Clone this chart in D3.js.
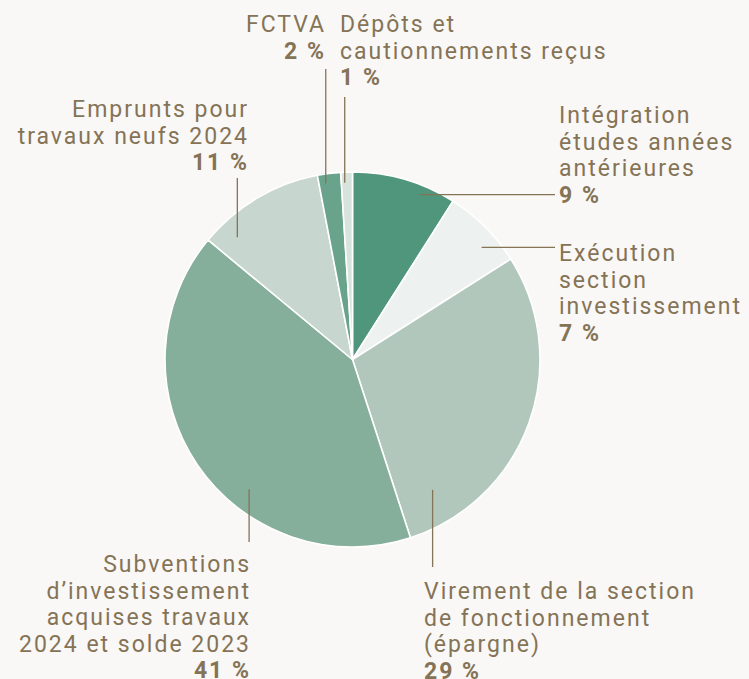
<!DOCTYPE html>
<html>
<head>
<meta charset="utf-8">
<script src="https://cdn.jsdelivr.net/npm/d3@7"></script>
<style>
  html, body { margin: 0; padding: 0; background: #f9f8f6; }
  svg { display: block; }
  .lbl { font-family: Roboto, sans-serif; font-size: 23px; fill: #857356; letter-spacing: 2px; }
  .lbl .pct { font-weight: 700; letter-spacing: 2px; }
</style>
</head>
<body>
<svg id="chart"></svg>
<script>
// Data, clockwise from 12 o'clock
const categories = [
  ["Intégration", "études années", "antérieures"],
  ["Exécution", "section", "investissement"],
  ["Virement de la section", "de fonctionnement", "(épargne)"],
  ["Subventions", "d’investissement", "acquises travaux", "2024 et solde 2023"],
  ["Emprunts pour", "travaux neufs 2024"],
  ["FCTVA"],
  ["Dépôts et", "cautionnements reçus"]
];
const values = [9, 7, 29, 41, 11, 2, 1];
const colors = ["#4f967c", "#edf2f0", "#b2c7bc", "#85ae9b", "#c7d6cf", "#69a38c", "#d8e3de"];

// label layout: t = position across slice, r = anchor radius,
// dir = leader direction, end = leader end, tx/ty = text anchor, align
const labelLayout = [
  {t: 0.685, r: 178, dir: "h", end: 555, tx: 559, ty: 123, align: "start"},
  {t: 0.66,  r: 171, dir: "h", end: 555, tx: 559, ty: 261, align: "start"},
  {t: 0.87,  r: 153, dir: "v", end: 567, tx: 424, ty: 599, align: "start"},
  {t: 0.383, r: 166, dir: "v", end: 542, tx: 251, ty: 572, align: "end"},
  {t: 0.18,  r: 168, dir: "v", end: 178, tx: 249, ty: 117, align: "end"},
  {t: 0.3,   r: 178, dir: "v", end: 69,  tx: 326, ty: 32,  align: "end"},
  {t: 0.3,   r: 177, dir: "v", end: 97,  tx: 340, ty: 32,  align: "start"}
];

const width = 749, height = 679;
const cx = 352.5, cy = 359.5, radius = 187.5;
const lineH = 26.5;

const svg = d3.select("#chart").attr("width", width).attr("height", height);

const pie = d3.pie().sort(null).value(d => d);
const arcs = pie(values);
const arc = d3.arc().innerRadius(0).outerRadius(radius);

const g = svg.append("g").attr("transform", `translate(${cx},${cy})`);

g.selectAll("path.slice")
  .data(arcs)
  .join("path")
  .attr("class", "slice")
  .attr("d", arc)
  .attr("fill", (d, i) => colors[i])
  .attr("stroke", "#ffffff")
  .attr("stroke-width", 1.6)
  .attr("stroke-linejoin", "round");

// leader lines
arcs.forEach((d, i) => {
  const L = labelLayout[i];
  const a = d.startAngle + (d.endAngle - d.startAngle) * L.t;
  const x0 = cx + L.r * Math.sin(a), y0 = cy - L.r * Math.cos(a);
  const x1 = L.dir === "h" ? L.end : x0;
  const y1 = L.dir === "h" ? y0 : L.end;
  svg.append("line")
    .attr("x1", x0).attr("y1", y0).attr("x2", x1).attr("y2", y1)
    .attr("stroke", "#857356").attr("stroke-width", 1.3);
});

// labels (text-anchor end: trailing letter-spacing shifts by 2px, tx compensates)
categories.forEach((lines, i) => {
  const L = labelLayout[i];
  const t = svg.append("text").attr("class", "lbl")
    .attr("text-anchor", L.align);
  lines.forEach((s, j) => {
    t.append("tspan").attr("x", L.tx).attr("y", L.ty + j * lineH).text(s);
  });
  t.append("tspan").attr("class", "pct")
    .attr("x", L.tx).attr("y", L.ty + lines.length * lineH)
    .text(values[i] + " %");
});
</script>
</body>
</html>
